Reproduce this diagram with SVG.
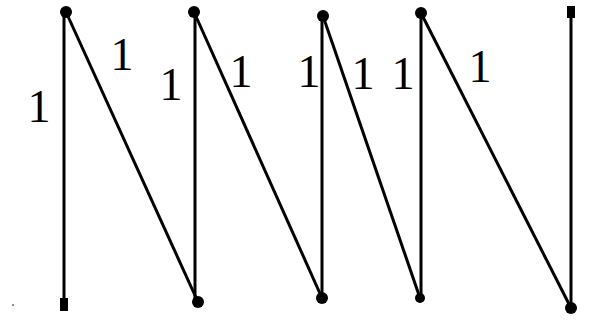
<svg xmlns="http://www.w3.org/2000/svg" width="595" height="320" viewBox="0 0 595 320">
<style>
.e{stroke:#000;stroke-width:3;fill:none}
.n{fill:#000}
.l{font-family:"Liberation Serif",serif;font-size:46px;fill:#000;text-anchor:middle}
</style>
<rect width="595" height="320" fill="#fff"/>
<g id="connectors">
<line class="e" x1="64" y1="12" x2="64" y2="305"/>
<line class="e" x1="66" y1="12" x2="198" y2="302"/>
<line class="e" x1="195" y1="12" x2="195" y2="302"/>
<line class="e" x1="194" y1="12" x2="322" y2="298"/>
<line class="e" x1="322" y1="16" x2="322" y2="298"/>
<line class="e" x1="323" y1="16" x2="420" y2="298"/>
<line class="e" x1="421" y1="13" x2="421" y2="298"/>
<line class="e" x1="421" y1="13" x2="571" y2="308"/>
<line class="e" x1="571" y1="12" x2="571" y2="308"/>
</g>
<g id="n1"><circle class="n" cx="66" cy="12" r="6"/></g>
<g id="n2"><circle class="n" cx="194" cy="12" r="6"/></g>
<g id="n3"><circle class="n" cx="323" cy="16" r="6"/></g>
<g id="n4"><circle class="n" cx="421" cy="13" r="6"/></g>
<g id="n5"><rect class="n" x="567" y="6" width="8" height="12"/></g>
<g id="n6"><rect class="n" x="60" y="298" width="8" height="13"/></g>
<g id="n7"><circle class="n" cx="198" cy="302" r="6"/></g>
<g id="n8"><circle class="n" cx="322" cy="298" r="6"/></g>
<g id="n9"><circle class="n" cx="420" cy="298" r="5"/></g>
<g id="n10"><circle class="n" cx="571" cy="308" r="6"/></g>
<circle class="n" cx="13" cy="305" r="0.8"/>
<g id="labels">
<text class="l" x="39" y="122">1</text>
<text class="l" x="122" y="70">1</text>
<text class="l" x="171" y="100">1</text>
<text class="l" x="241" y="87">1</text>
<text class="l" x="309" y="87">1</text>
<text class="l" x="363" y="89">1</text>
<text class="l" x="403" y="89">1</text>
<text class="l" x="480" y="82">1</text>
</g>
</svg>
